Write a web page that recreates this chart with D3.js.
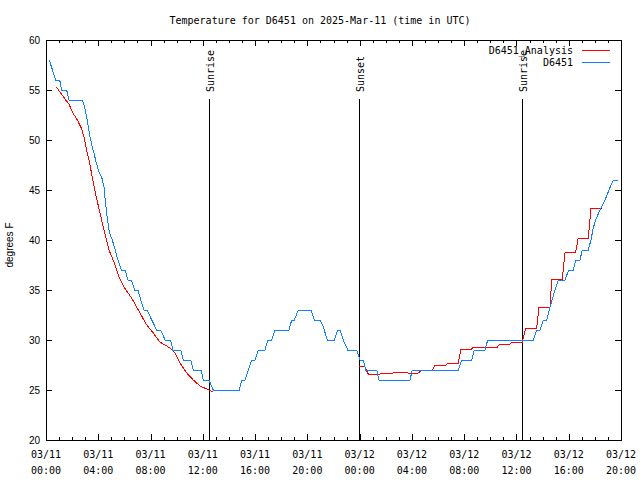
<!DOCTYPE html>
<html><head><meta charset="utf-8">
<script src="https://cdn.jsdelivr.net/npm/d3@7"></script>
<style>body{margin:0;background:#fff}</style>
</head><body><svg id="c" width="640" height="480"></svg>
<script>
const titleText = "Temperature for D6451 on 2025-Mar-11 (time in UTC)";
const yLabel = "degrees F";
const startTime = "2025-03-11T00:00:00Z";
const endTime = "2025-03-12T20:00:00Z";
const yTicks = [20, 25, 30, 35, 40, 45, 50, 55, 60];
const seriesNames = ["D6451_Analysis", "D6451"];
const seriesColors = ["#ff0000", "#1080ff"];

// observed D6451: hours after start, degrees F
const obsHours = [0.25,0.74,1.05,1.20,1.58,1.76,2.78,2.96,3.11,3.24,3.37,3.54,3.67,3.85,4.06,4.26,4.44,4.51,4.64,4.74,4.84,5.07,5.26,5.46,5.76,6.05,6.27,6.53,6.79,7.04,7.25,7.50,7.75,8.09,8.47,8.78,9.11,9.54,9.70,10.31,10.51,11.07,11.27,11.86,12.04,12.47,12.80,14.79,14.98,15.23,15.48,15.74,15.99,16.25,16.76,16.97,17.27,17.52,18.60,18.80,19.00,19.31,20.28,20.53,20.97,21.22,21.53,22.06,22.32,22.50,22.75,23.09,23.78,24.03,24.28,24.46,25.31,25.48,27.85,28.03,31.55,31.81,32.58,32.77,33.59,33.80,37.29,37.55,37.80,38.05,38.31,38.57,38.95,39.20,39.72,39.85,40.02,40.35,40.53,40.86,41.04,41.50,41.70,41.88,42.06,42.39,42.78,43.08,43.41,43.79];
const obsTemps = [58,56,56,55,55,54,54,53.3,52.3,51.3,50.3,49.3,48.7,47.7,46.8,46.3,45.3,44.3,42.7,41.7,40.8,40,39.2,38.2,37,37,36,36,35,35,34,33,33,32,31,31,30,30,29,29,28,28,27,27,26,26,25,25,26,26,27,28,28,29,29,30,30,31,31,32,32,33,33,32,32,31.3,30,30,31,31,30,29,29,28,28,27,27,26,26,27,27,28,28,29,29,30,30,31,31,32,32,33.3,35,36,36,36.5,37,37,38,38,39,39,40,41.2,42,43,44,45,46,46];

// analysis D6451_Analysis (null = gap)
const anaHours = [0.79,1.12,1.51,1.76,2.01,2.40,2.73,2.91,3.11,3.34,3.62,3.85,4.13,4.44,4.64,4.82,5.20,5.59,5.97,6.60,7.19,7.71,8.21,8.72,9.49,9.87,10.25,10.77,11.27,11.78,12.30,12.80,
  18.0,
  23.95,24.36,24.66,25.56,25.69,26.55,26.71,27.53,27.72,28.49,28.75,29.56,29.77,30.59,30.79,31.55,31.76,32.58,32.70,33.54,33.70,34.54,34.74,35.51,35.64,36.45,36.71,37.55,37.73,38.57,38.70,39.51,39.72,40.53,40.73,41.50,41.70,42.52];
const anaTemps = [55.3,54.7,54,53.6,52.8,52,51.1,50.3,49,47.7,45.7,44.3,42.7,41,40,39,37.8,36.3,35.3,34.1,32.7,31.5,30.7,29.8,29.2,28.7,27.7,26.7,26,25.4,25.1,24.8,
  null,
  27.4,27.4,26.6,26.6,26.7,26.7,26.8,26.8,26.7,26.7,27,27,27.5,27.5,27.7,27.7,29.1,29.1,29.3,29.3,29.3,29.3,29.6,29.6,29.8,29.8,31.2,31.2,33.3,33.3,36.1,36.1,38.8,38.8,40.2,40.2,43.2,43.2];

const eventNames = ["Sunrise", "Sunset", "Sunrise"];
const eventHours = [12.50, 23.98, 36.45];
const eventTop = 54.1;

const L = 46, R = 621, T = 40, B = 440;
const t0 = new Date(startTime), t1 = new Date(endTime);
const hr = h => new Date(t0.getTime() + h * 3600000);
const x = d3.scaleUtc().domain([t0, t1]).range([L, R]);
const y = d3.scaleLinear().domain([20, 60]).range([B, T]);
const svg = d3.select("#c");
const mono = "DejaVu Sans Mono, monospace";
const sans = "Liberation Sans, Arial, sans-serif";

svg.append("text").attr("x", 320).attr("y", 24).attr("text-anchor", "middle")
  .attr("font-family", mono).attr("font-size", 10).text(titleText);

// ticks
const hours = d3.utcHour.range(t0, new Date(t1.getTime() + 1));
const g = svg.append("g").attr("stroke", "#000").attr("shape-rendering", "crispEdges");
hours.forEach(d => {
  const xx = Math.round(x(d)) + 0.5;
  const len = d.getUTCHours() % 4 === 0 ? 6 : 3;
  g.append("line").attr("x1", xx).attr("x2", xx).attr("y1", B).attr("y2", B - len);
  g.append("line").attr("x1", xx).attr("x2", xx).attr("y1", T).attr("y2", T + len);
});
yTicks.forEach(v => {
  const yy = Math.round(y(v)) + 0.5;
  g.append("line").attr("x1", L).attr("x2", L + 6).attr("y1", yy).attr("y2", yy);
  g.append("line").attr("x1", R).attr("x2", R - 6).attr("y1", yy).attr("y2", yy);
  svg.append("text").attr("x", 40).attr("y", y(v) + 3.5).attr("text-anchor", "end")
    .attr("font-family", sans).attr("font-size", 10).text(v);
});
const fmt1 = d3.utcFormat("%m/%d"), fmt2 = d3.utcFormat("%H:%M");
hours.filter(d => d.getUTCHours() % 4 === 0).forEach(d => {
  svg.append("text").attr("x", x(d)).attr("y", 458).attr("text-anchor", "middle")
    .attr("font-family", mono).attr("font-size", 10).text(fmt1(d));
  svg.append("text").attr("x", x(d)).attr("y", 474).attr("text-anchor", "middle")
    .attr("font-family", mono).attr("font-size", 10).text(fmt2(d));
});
svg.append("text").attr("transform", "translate(13,245) rotate(-90)").attr("text-anchor", "middle")
  .attr("font-family", sans).attr("font-size", 10).text(yLabel);

// events
eventHours.forEach((h, i) => {
  const xx = Math.round(x(hr(h))) + 0.5;
  svg.append("line").attr("x1", xx).attr("x2", xx).attr("y1", y(eventTop)).attr("y2", B)
    .attr("stroke", "#000").attr("shape-rendering", "crispEdges");
  svg.append("text").attr("transform", `translate(${xx + 4},92) rotate(-90)`)
    .attr("font-family", mono).attr("font-size", 10).text(eventNames[i]);
});

// series
const line = d3.line().defined(d => d[1] != null).x(d => x(hr(d[0]))).y(d => y(d[1]));
svg.append("path").datum(anaHours.map((h, i) => [h, anaTemps[i]]))
  .attr("d", line).attr("fill", "none").attr("stroke", seriesColors[0]).attr("stroke-width", 1)
  .attr("shape-rendering", "crispEdges");
svg.append("path").datum(obsHours.map((h, i) => [h, obsTemps[i]]))
  .attr("d", line).attr("fill", "none").attr("stroke", seriesColors[1]).attr("stroke-width", 1)
  .attr("shape-rendering", "crispEdges");

// legend
[0, 1].forEach(i => {
  const ly = 50 + i * 12;
  svg.append("text").attr("x", 573).attr("y", ly + 3.5).attr("text-anchor", "end")
    .attr("font-family", mono).attr("font-size", 10).text(seriesNames[i]);
  svg.append("line").attr("x1", 582).attr("x2", 610).attr("y1", ly + 0.5).attr("y2", ly + 0.5)
    .attr("stroke", seriesColors[i]).attr("shape-rendering", "crispEdges");
});

// border
svg.append("rect").attr("x", L + 0.5).attr("y", T + 0.5).attr("width", R - L).attr("height", B - T)
  .attr("fill", "none").attr("stroke", "#000").attr("shape-rendering", "crispEdges");
</script></body></html>
